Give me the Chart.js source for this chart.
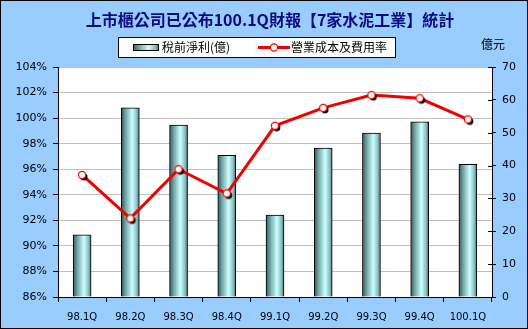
<!DOCTYPE html>
<html>
<head>
<meta charset="utf-8">
<script src="https://cdn.jsdelivr.net/npm/chart.js@4"></script>
<style>
  html, body { margin: 0; padding: 0; background: #99ccff; }
  #wrap { width: 528px; height: 329px; }
</style>
</head>
<body>
<div id="wrap"><canvas id="cementChart" width="528" height="329"></canvas></div>
<script>
let quarters = ["98.1Q", "98.2Q", "98.3Q", "98.4Q", "99.1Q", "99.2Q", "99.3Q", "99.4Q", "100.1Q"]
let profitBefore = [18.9, 57.6, 52.3, 43.1, 24.9, 45.3, 49.9, 53.3, 40.4]   // 億元
let costRate = [95.55, 92.15, 96.0, 94.1, 99.4, 100.8, 101.8, 101.55, 99.9]  // %

let titleText = "上市櫃公司已公布100.1Q財報【7家水泥工業】統計"
let unitText = "億元"
let cjk = "'Noto Sans CJK TC', 'DejaVu Sans', sans-serif"
let tickFont = "'DejaVu Sans', sans-serif"
let red = "#f00000"

function barGradient(ctx, x0, x1) {
  let g = ctx.createLinearGradient(x0, 0, x1, 0)
  g.addColorStop(0, "#355a5a")
  g.addColorStop(0.25, "#77a8a8")
  g.addColorStop(0.6, "#ccffff")
  g.addColorStop(0.85, "#8cc2c2")
  g.addColorStop(1, "#456f6f")
  return g
}

// marker: white dot with red ring and a black shadow down-right
function makeMarker() {
  let c = document.createElement("canvas")
  c.width = 16
  c.height = 16
  let g = c.getContext("2d")
  g.fillStyle = "#000"
  g.beginPath(); g.arc(9.8, 9.8, 3.6, 0, Math.PI * 2); g.fill()
  g.fillStyle = "#fff"
  g.strokeStyle = red
  g.lineWidth = 1.2
  g.beginPath(); g.arc(8, 8, 3.6, 0, Math.PI * 2); g.fill(); g.stroke()
  return c
}
let marker = makeMarker()

let backdrop = {
  id: "backdrop",
  beforeDraw(chart) {
    let ctx = chart.ctx, a = chart.chartArea
    ctx.save()
    ctx.fillStyle = "#99ccff"
    ctx.fillRect(0, 0, chart.width, chart.height)
    ctx.fillStyle = "#ffffff"
    ctx.fillRect(a.left, a.top, a.right - a.left, a.bottom - a.top)
    ctx.restore()
  },
  afterDraw(chart) {
    let ctx = chart.ctx
    ctx.save()
    // right axis ticks also poke inside the plot
    let yR = chart.scales.yR
    ctx.strokeStyle = "#000"
    ctx.lineWidth = 1
    yR.ticks.forEach(function(t) {
      let y = Math.round(yR.getPixelForValue(t.value)) + 0.5
      ctx.beginPath(); ctx.moveTo(yR.left - 4, y); ctx.lineTo(yR.left, y); ctx.stroke()
    })
    // outer frame
    ctx.strokeRect(0.5, 0.5, chart.width - 1, chart.height - 1)
    // title
    ctx.fillStyle = "#0a0a80"
    ctx.font = "bold 16px " + cjk
    ctx.textAlign = "center"
    ctx.textBaseline = "middle"
    ctx.fillText(titleText, 270, 20)
    // unit label over right axis
    ctx.fillStyle = "#000"
    ctx.font = "12px " + cjk
    ctx.fillText(unitText, 493, 44)
    // legend box
    ctx.fillStyle = "#fff"
    ctx.fillRect(118, 37, 277, 20)
    ctx.strokeRect(118.5, 37.5, 277, 20)
    ctx.fillStyle = barGradient(ctx, 133, 159)
    ctx.fillRect(133, 44, 26, 7)
    ctx.strokeRect(133.5, 44.5, 25, 6)
    ctx.fillStyle = "#000"
    ctx.textAlign = "left"
    ctx.fillText(chart.data.datasets[1].label, 162, 47.5)
    ctx.strokeStyle = red
    ctx.lineWidth = 3
    ctx.beginPath(); ctx.moveTo(258, 47.5); ctx.lineTo(290, 47.5); ctx.stroke()
    ctx.fillStyle = "#fff"
    ctx.lineWidth = 1.2
    ctx.beginPath(); ctx.arc(274, 47.5, 3.6, 0, Math.PI * 2); ctx.fill(); ctx.stroke()
    ctx.fillStyle = "#000"
    ctx.fillText(chart.data.datasets[0].label, 291, 47.5)
    ctx.restore()
  }
}

let chartData = {
  labels: quarters,
  datasets: [
    {
      type: "line",
      label: "營業成本及費用率",
      data: costRate,
      yAxisID: "yL",
      borderColor: red,
      borderWidth: 3,
      tension: 0,
      pointStyle: marker,
      pointRadius: 5,
      order: 1
    },
    {
      type: "bar",
      label: "稅前淨利(億)",
      data: profitBefore,
      yAxisID: "yR",
      barThickness: 18,
      borderColor: "#000",
      borderWidth: 1,
      borderSkipped: "bottom",
      backgroundColor: function(c) {
        let chart = c.chart
        if (!chart.scales || !chart.scales.x) return "#9cc"
        let x = chart.scales.x.getPixelForValue(c.dataIndex)
        if (!isFinite(x)) return "#9cc"
        return barGradient(chart.ctx, x - 9, x + 9)
      },
      order: 2
    }
  ]
}

new Chart(document.getElementById("cementChart"), {
  type: "bar",
  data: chartData,
  plugins: [backdrop],
  options: {
    responsive: false,
    animation: false,
    layout: { padding: { top: 67, left: 0, right: 0, bottom: 0 } },
    plugins: { legend: { display: false }, title: { display: false }, tooltip: { enabled: false } },
    scales: {
      x: {
        offset: true,
        grid: { offset: true, drawOnChartArea: false, tickLength: 5, tickColor: "#000" },
        border: { color: "#000" },
        ticks: { color: "#000", font: { family: tickFont, size: 10 }, padding: 9, maxRotation: 0 },
        afterFit(s) { s.height = 32 }
      },
      yL: {
        position: "left",
        min: 86,
        max: 104,
        ticks: {
          stepSize: 2,
          color: "#000",
          font: { family: tickFont, size: 11 },
          padding: 6,
          callback: v => v + "%"
        },
        grid: { color: "#c0c0c0", tickColor: "#000", tickLength: 5 },
        border: { color: "#000" },
        afterFit(s) { s.width = 58 }
      },
      yR: {
        position: "right",
        min: 0,
        max: 70,
        ticks: { stepSize: 10, color: "#000", font: { family: tickFont, size: 11 }, padding: 6 },
        grid: { drawOnChartArea: false, tickColor: "#000", tickLength: 4 },
        border: { color: "#000" },
        afterFit(s) { s.width = 36 }
      }
    }
  }
})
</script>
</body>
</html>
